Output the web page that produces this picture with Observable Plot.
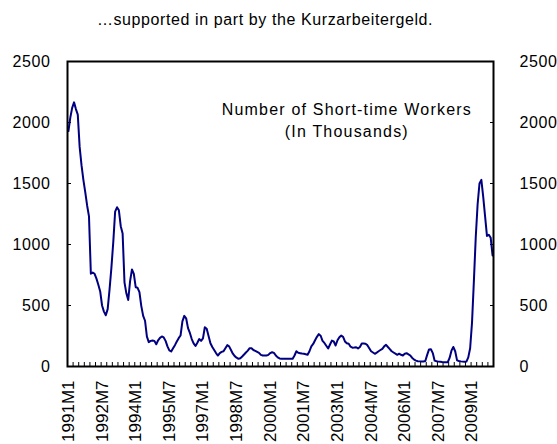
<!DOCTYPE html>
<html><head><meta charset="utf-8">
<script src="https://cdn.jsdelivr.net/npm/d3@7"></script>
<script src="https://cdn.jsdelivr.net/npm/@observablehq/plot@0.6"></script>
<style>
body{margin:0;background:#fff;font-family:"Liberation Sans",Arial,sans-serif;}
#title{width:557px;height:40px;box-sizing:border-box;padding-right:27px;text-align:center;font-size:16px;letter-spacing:0.6px;line-height:40px;color:#000}
g[aria-label="y-axis tick label"] text{letter-spacing:0.6px}
g[aria-label="x-axis tick label"] text{font-size:17px}
g[aria-label="text"] text{letter-spacing:1.2px}
</style></head><body>
<div id="title">…supported in part by the Kurzarbeitergeld.</div>
<div id="chart"></div>
<script>
// Short-time workers (thousands), monthly, 1991M1 – 2009M12
const startYear = 1991;
const v1991 = [1930, 2040, 2120, 2165, 2110, 2065, 1800, 1650, 1530, 1430, 1320, 1230];
const v1992 = [760, 770, 760, 720, 670, 615, 500, 450, 420, 470, 630, 810];
const v1993 = [1020, 1270, 1305, 1280, 1150, 1090, 690, 600, 545, 700, 795, 760];
const v1994 = [650, 645, 610, 495, 415, 375, 245, 200, 210, 213, 210, 182];
const v1995 = [215, 235, 246, 238, 210, 165, 132, 123, 150, 175, 205, 232];
const v1996 = [254, 370, 415, 395, 315, 275, 225, 190, 168, 195, 225, 210];
const v1997 = [230, 322, 310, 250, 190, 160, 135, 110, 90, 110, 120, 125];
const v1998 = [150, 175, 165, 135, 105, 85, 72, 63, 68, 82, 98, 115];
const v1999 = [130, 150, 150, 135, 128, 120, 112, 95, 90, 90, 90, 95];
const v2000 = [110, 117, 112, 90, 75, 66, 63, 63, 63, 63, 63, 63];
const v2001 = [63, 90, 125, 112, 109, 106, 104, 100, 96, 125, 165, 185];
const v2002 = [215, 243, 265, 252, 210, 193, 170, 148, 180, 212, 205, 172];
const v2003 = [215, 240, 253, 243, 205, 190, 186, 162, 154, 155, 158, 148];
const v2004 = [160, 188, 188, 186, 175, 150, 125, 115, 104, 114, 125, 135];
const v2005 = [145, 165, 178, 160, 143, 125, 115, 105, 96, 105, 96, 90];
const v2006 = [105, 109, 100, 90, 70, 57, 48, 43, 42, 41, 41, 45];
const v2007 = [95, 140, 142, 110, 48, 43, 40, 38, 36, 35, 35, 35];
const v2008 = [70, 130, 160, 125, 50, 45, 42, 40, 38, 40, 75, 150];
const v2009 = [360, 700, 1060, 1330, 1500, 1530, 1390, 1230, 1070, 1080, 1055, 910];

const xTickLabels = ["1991M1","1992M7","1994M1","1995M7","1997M1","1998M7","2000M1","2001M7","2003M1","2004M7","2006M1","2007M7","2009M1"];
const yTicks = [0, 500, 1000, 1500, 2000, 2500];
const annotation = "Number of Short-time Workers\n(In Thousands)";

const values = [v1991,v1992,v1993,v1994,v1995,v1996,v1997,v1998,v1999,v2000,v2001,v2002,v2003,v2004,v2005,v2006,v2007,v2008,v2009].flat();
const nMonths = values.length;
// each month is a category of width 1; point at its centre
const series = values.map((v, i) => ({t: i + 0.5, v}));
const monthIndex = s => { const [y, m] = s.split("M").map(Number); return (y - startYear) * 12 + (m - 1); };
const labelPos = xTickLabels.map(s => monthIndex(s) + 0.5);
const labelOf = new Map(labelPos.map((p, k) => [p, xTickLabels[k]]));
const quarterTicks = d3.range(0, nMonths + 1, 3);

const chart = Plot.plot({
  width: 557, height: 404,
  marginTop: 21, marginBottom: 78, marginLeft: 67, marginRight: 64,
  style: {fontFamily: '"Liberation Sans", Arial, sans-serif', fontSize: "16px", color: "#000", background: "#fff", overflow: "visible"},
  x: {domain: [0, nMonths], axis: null},
  y: {domain: [0, 2500], axis: null},
  marks: [
    Plot.axisY(yTicks, {anchor: "left", label: null, tickSize: -4, tickPadding: 21, tickFormat: d => String(d), stroke: "#000", fill: "#000"}),
    Plot.axisY(yTicks, {anchor: "right", label: null, tickSize: -4, tickPadding: 30, tickFormat: d => String(d), textAnchor: "start", stroke: "#000", fill: "#000"}),
    Plot.axisX(quarterTicks, {anchor: "bottom", label: null, tickSize: -4, tickFormat: () => "", stroke: "#000"}),
    Plot.axisX(labelPos, {anchor: "bottom", label: null, tickSize: 0, tickPadding: 14, tickRotate: -90, tickFormat: d => labelOf.get(d), fill: "#000"}),
    Plot.line(series, {x: "t", y: "v", stroke: "#000080", strokeWidth: 2}),
    Plot.text([annotation], {x: 149.5, y: 2025, text: d => d, lineHeight: 1.375, fontSize: 16, fill: "#000"}),
    Plot.frame({stroke: "#000", strokeWidth: 2})
  ]
});
document.getElementById("chart").appendChild(chart);
</script>
</body></html>
